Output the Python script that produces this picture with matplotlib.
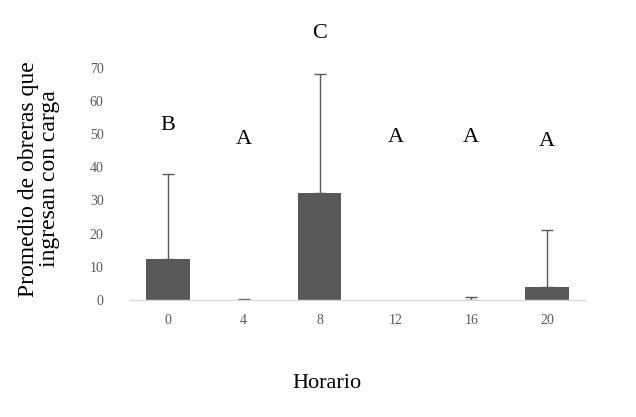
import matplotlib
matplotlib.use("Agg")
import matplotlib.pyplot as plt
import numpy as np

horario = ["0", "4", "8", "12", "16", "20"]
promedio = [12.3, 0.0, 32.1, 0.0, 0.0, 3.7]
error_sup = [25.8, 0.3, 36.0, None, 0.9, 17.3]
letras = ["B", "A", "C", "A", "A", "A"]
letra_y = [52.5, 48.3, 80.3, 48.9, 49.0, 47.7]

plt.rcParams['font.family'] = ['Liberation Serif', 'DejaVu Serif']

fig = plt.figure(figsize=(6.36, 4.17), dpi=100)
ax = fig.add_axes([130/636, 117.3/417, 455/636, (299.7-68)/417])

x = np.arange(len(horario))
ax.bar(x, promedio, width=0.57, color="#595959", zorder=2)
idx = [i for i, e in enumerate(error_sup) if e is not None]
ax.errorbar(x[idx], [promedio[i] for i in idx],
            yerr=[np.zeros(len(idx)), [error_sup[i] for i in idx]], fmt="none",
            ecolor="#595959", elinewidth=1, capsize=4.5, capthick=1, zorder=1)

for xi, l, ly in zip(x, letras, letra_y):
    ax.text(xi, ly, l, ha="center", va="center", fontsize=16, color="black", clip_on=False)

ax.set_xlim(-0.5, len(x) - 0.5)
ax.set_ylim(0, 70)
ax.set_yticks(np.arange(0, 71, 10))
ax.set_xticks(x)
ax.set_xticklabels(horario)
for s in ["top", "right", "left"]:
    ax.spines[s].set_visible(False)
ax.spines["bottom"].set_color("#d9d9d9")
ax.spines["bottom"].set_linewidth(1)
ax.tick_params(axis="both", length=0, labelsize=10, labelcolor="#595959")
ax.tick_params(axis="y", pad=19)
ax.tick_params(axis="x", pad=10)

fig.text(39/636, 1 - 179/417, "Promedio de obreras que\ningresan con carga", rotation=90,
         ha="center", va="center", fontsize=17, linespacing=1.05)
fig.text(327/636, 1 - 383/417, "Horario", ha="center", va="center", fontsize=16)

fig.savefig("out.png", dpi=100)
